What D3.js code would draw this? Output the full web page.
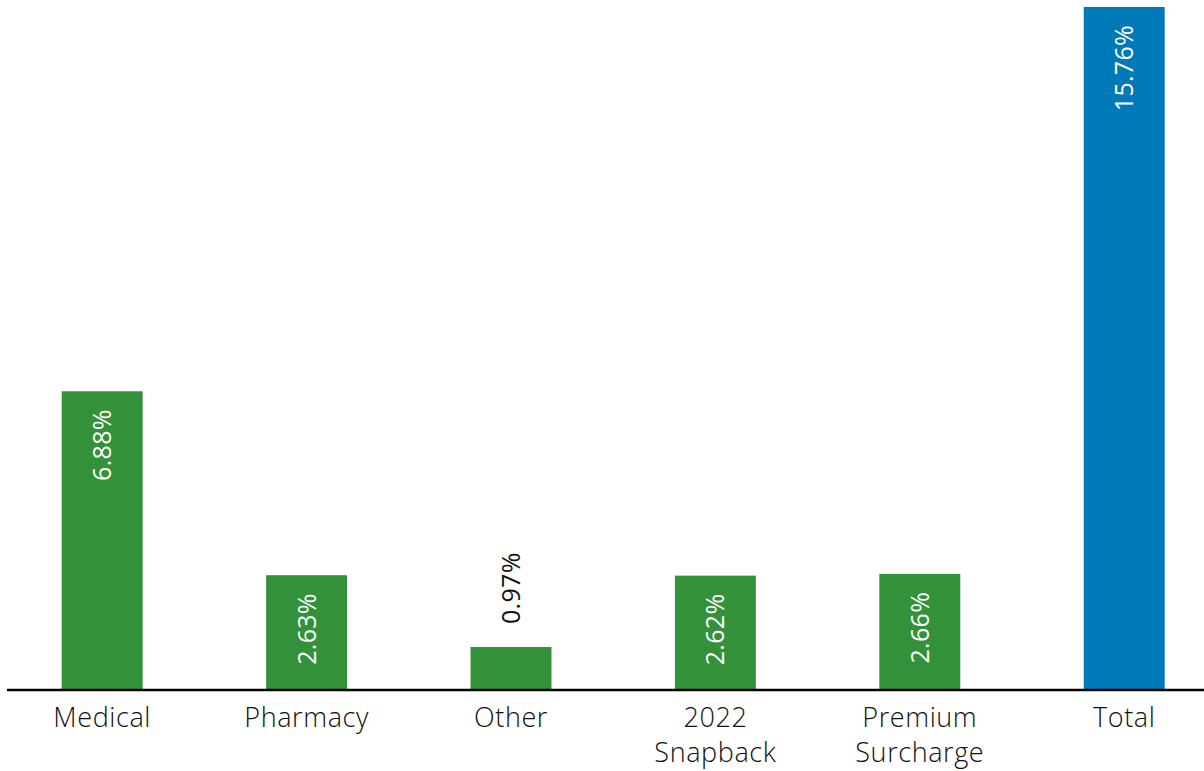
<!DOCTYPE html>
<html><head><meta charset="utf-8">
<script src="https://cdn.jsdelivr.net/npm/d3@7"></script>
<style>html,body{margin:0;padding:0;background:#fff;overflow:hidden}</style>
</head><body>
<svg id="chart" width="1204" height="771"></svg>
<script>
const categories = [["Medical"], ["Pharmacy"], ["Other"], ["2022", "Snapback"], ["Premium", "Surcharge"], ["Total"]];
const values = [6.88, 2.63, 0.97, 2.62, 2.66, 15.76];
const valueLabels = ["6.88%", "2.63%", "0.97%", "2.62%", "2.66%", "15.76%"];
const barColors = ["#339139", "#339139", "#339139", "#339139", "#339139", "#0079b8"];

(function () {
const svg = d3.select("#chart");
const baseline = 689, plotTop = 7;
const font = "'Open Sans', Lato, sans-serif";
const keys = categories.map((c, i) => i);
const x = d3.scaleBand().domain(keys).range([0, 1226.4]).paddingInner(0.604).paddingOuter(0.302);
const y = d3.scaleLinear().domain([0, d3.max(values)]).range([baseline, plotTop]);

svg.selectAll("rect.bar").data(keys).join("rect")
  .attr("class", "bar")
  .attr("x", i => x(i)).attr("width", x.bandwidth())
  .attr("y", i => y(values[i])).attr("height", i => baseline - y(values[i]))
  .attr("fill", i => barColors[i]);

svg.append("line").attr("x1", 7).attr("x2", 1204).attr("y1", baseline + 1).attr("y2", baseline + 1)
  .attr("stroke", "#000").attr("stroke-width", 2.5);

const inside = i => (baseline - y(values[i])) > 90;
svg.selectAll("text.val").data(keys).join("text")
  .attr("class", "val")
  .attr("transform", i => {
    const cx = x(i) + x.bandwidth() / 2;
    const ty = inside(i) ? y(values[i]) + 18 : y(values[i]) - 23;
    return `translate(${cx + 9},${ty}) rotate(-90)`;
  })
  .attr("text-anchor", i => inside(i) ? "end" : "start")
  .attr("font-family", font).attr("font-size", 25).attr("font-weight", 400)
  .attr("letter-spacing", 0.3)
  .attr("fill", i => inside(i) ? "#fff" : "#111")
  .text(i => valueLabels[i]);

const cat = svg.selectAll("text.cat").data(keys).join("text")
  .attr("class", "cat")
  .attr("x", i => x(i) + x.bandwidth() / 2)
  .attr("y", 727)
  .attr("text-anchor", "middle")
  .attr("font-family", font).attr("font-size", 27).attr("font-weight", 350)
  .attr("letter-spacing", 0.6).attr("fill", "#111");
cat.each(function (i) {
  const t = d3.select(this);
  const cx = x(i) + x.bandwidth() / 2;
  categories[i].forEach((line, j) => {
    t.append("tspan").attr("x", cx).attr("dy", j === 0 ? 0 : 35).text(line);
  });
});
})();
</script>
</body></html>
